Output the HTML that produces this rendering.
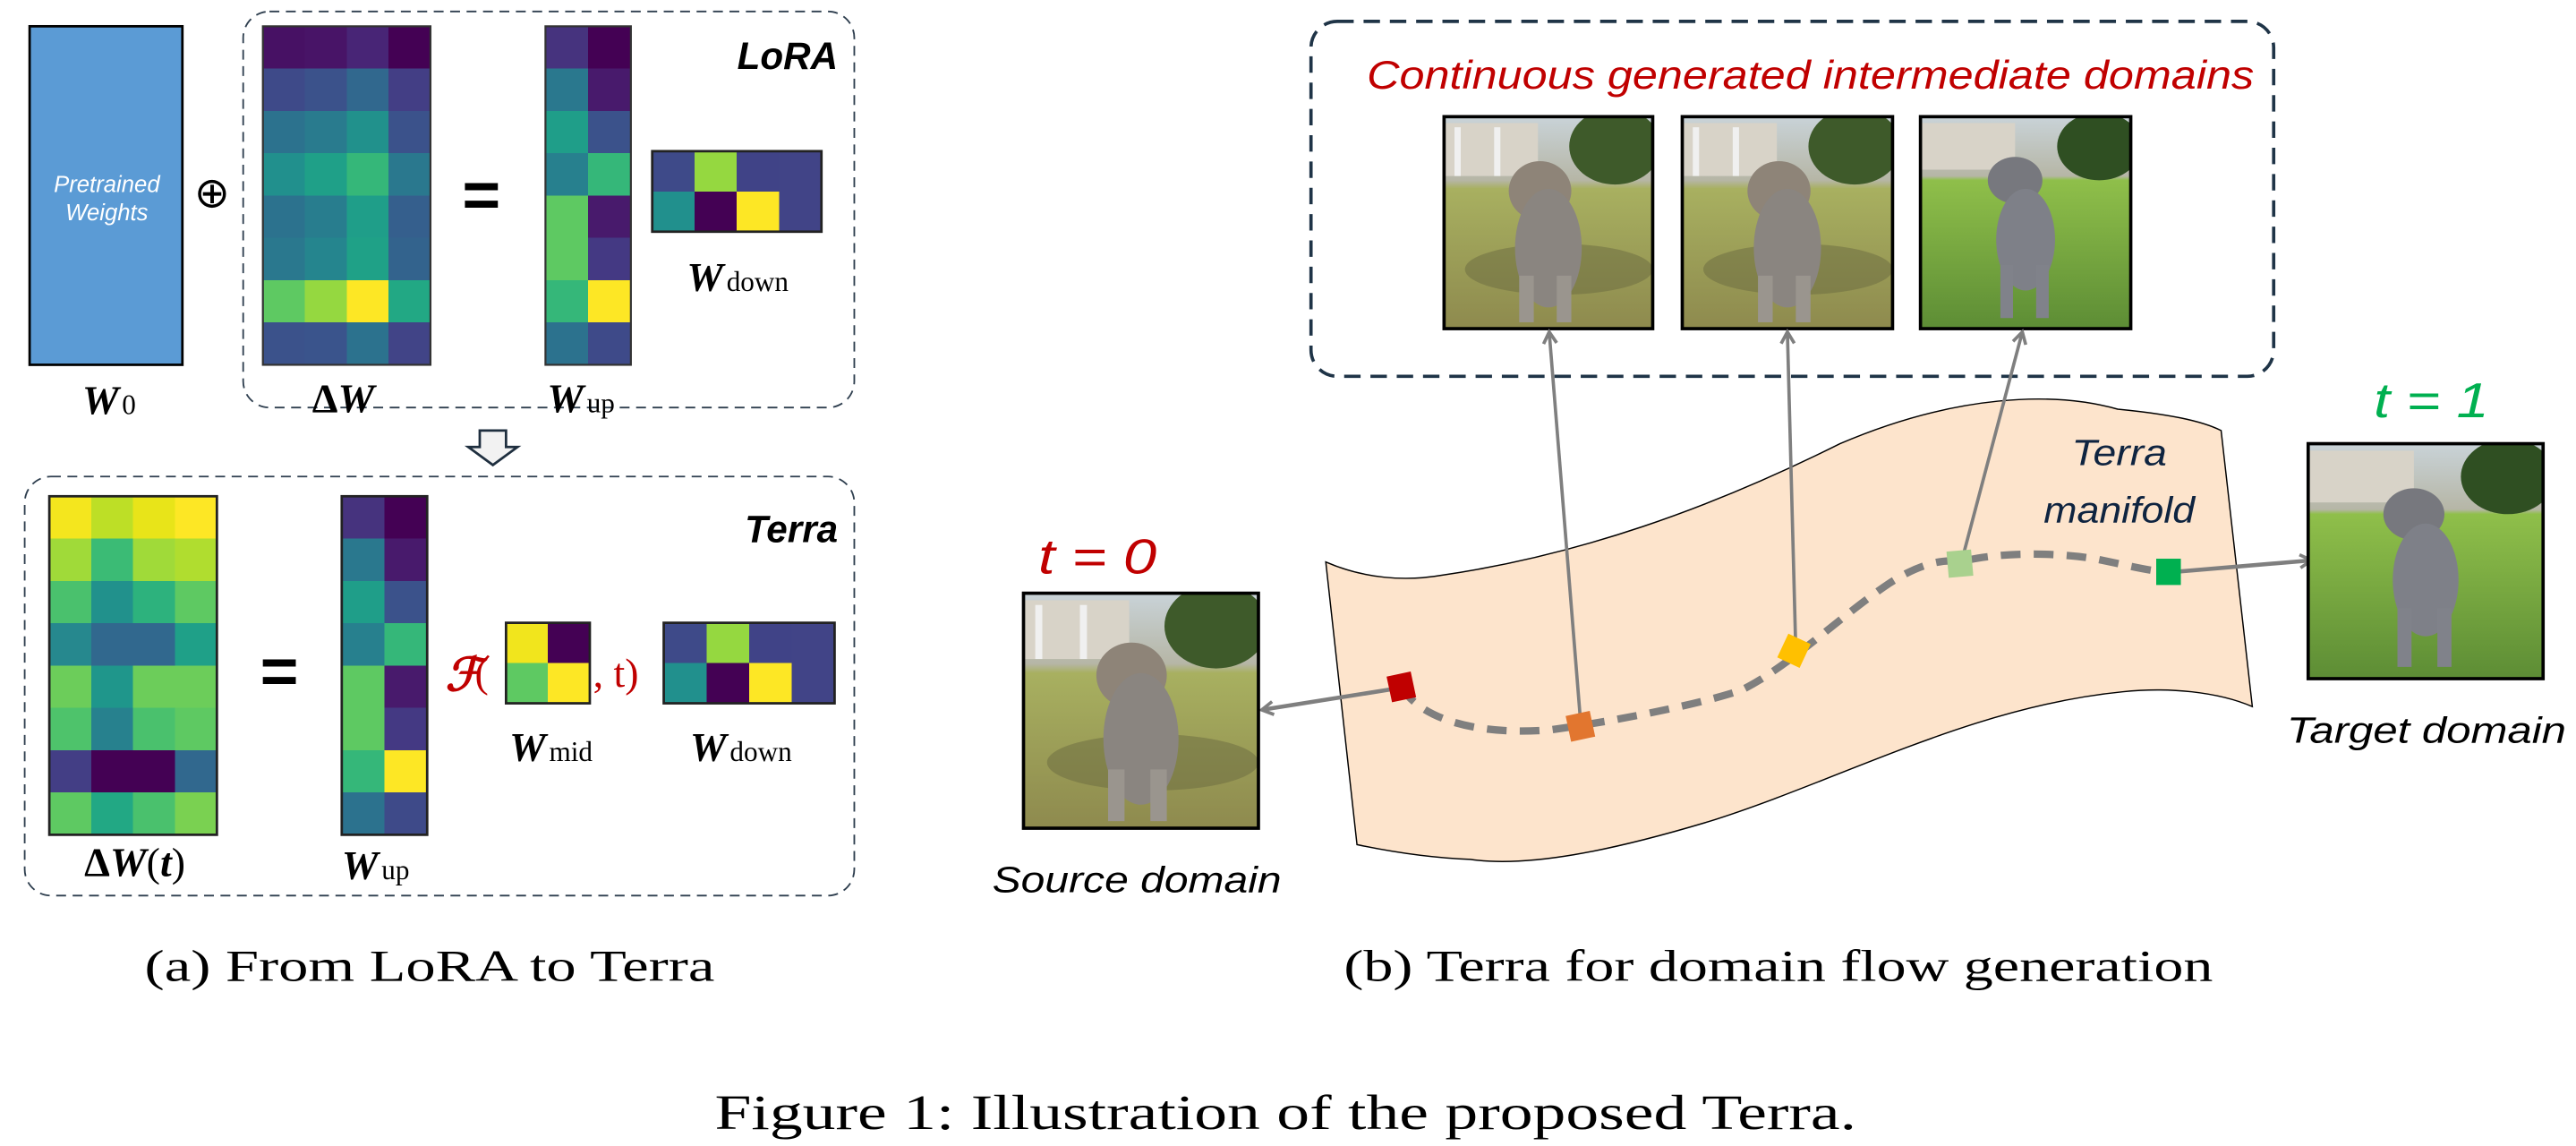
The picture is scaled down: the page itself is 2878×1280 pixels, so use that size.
<!DOCTYPE html>
<html><head><meta charset="utf-8"><style>
html,body{margin:0;padding:0;background:#fff}
svg{display:block}
.lbl{font-family:"Liberation Sans",sans-serif;font-style:italic}
.mW{font-family:"Liberation Serif",serif;font-style:italic;font-weight:bold}
.sub{font-family:"Liberation Serif",serif;font-style:normal;font-weight:normal}
.cap{font-family:"Liberation Serif",serif}
</style></head><body>
<svg width="2878" height="1280" viewBox="0 0 1568 697.4" xmlns="http://www.w3.org/2000/svg">
<defs>
<marker id="ah" markerWidth="10" markerHeight="10" refX="8" refY="5" orient="auto" markerUnits="userSpaceOnUse">
<path d="M1,1 L8,5 L1,9" fill="none" stroke="#7f7f7f" stroke-width="2"/>
</marker>
<linearGradient id="sky" x1="0" y1="0" x2="0" y2="1">
<stop offset="0" stop-color="#c9d3d8"/><stop offset="0.3" stop-color="#b6b6a6"/><stop offset="0.34" stop-color="#a8b060"/><stop offset="1" stop-color="#8e8a4e"/>
</linearGradient>
<linearGradient id="skyg" x1="0" y1="0" x2="0" y2="1">
<stop offset="0" stop-color="#c9d3d8"/><stop offset="0.28" stop-color="#b6b6a6"/><stop offset="0.3" stop-color="#8fbf4a"/><stop offset="1" stop-color="#5d8d35"/>
</linearGradient>
<symbol id="ph" viewBox="0 0 100 100" preserveAspectRatio="none">
<rect width="100" height="100" fill="url(#sky)"/>
<rect x="0" y="3" width="45" height="25" fill="#d8d3c8"/>
<rect x="5" y="5" width="3" height="23" fill="#f0f0f0"/><rect x="24" y="5" width="3" height="23" fill="#f0f0f0"/>
<ellipse cx="82" cy="14" rx="22" ry="18" fill="#3e5a2a"/>
<ellipse cx="55" cy="72" rx="45" ry="12" fill="#6a6a40" opacity="0.5"/>
<ellipse cx="46" cy="35" rx="15" ry="14" fill="#8e8478"/>
<ellipse cx="50" cy="62" rx="16" ry="28" fill="#8a8580"/>
<rect x="36" y="75" width="7" height="22" fill="#9a958e"/><rect x="54" y="75" width="7" height="22" fill="#9a958e"/>
</symbol>
<symbol id="phg" viewBox="0 0 100 100" preserveAspectRatio="none">
<rect width="100" height="100" fill="url(#skyg)"/>
<rect x="0" y="3" width="45" height="22" fill="#d8d3c8"/>
<ellipse cx="85" cy="14" rx="20" ry="16" fill="#2f4f22"/>
<ellipse cx="45" cy="30" rx="13" ry="11" fill="#77787e"/>
<ellipse cx="50" cy="58" rx="14" ry="24" fill="#7e8088"/>
<rect x="38" y="70" width="6" height="25" fill="#80828a"/><rect x="55" y="70" width="6" height="25" fill="#80828a"/>
</symbol>
</defs>

<!-- ===== Panel (a) ===== -->
<rect x="18" y="16" width="93" height="206" fill="#5b9bd5" stroke="#000" stroke-width="1.5"/>
<text class="lbl" x="65" y="117" fill="#fff" font-size="14" text-anchor="middle">Pretrained</text>
<text class="lbl" x="65" y="134" fill="#fff" font-size="14" text-anchor="middle">Weights</text>
<text x="129" y="126" font-family="DejaVu Sans,sans-serif" font-size="26" text-anchor="middle">⊕</text>

<rect x="148" y="7" width="372" height="241" rx="16" fill="none" stroke="#2f3f4f" stroke-width="1" stroke-dasharray="6,4"/>
<text x="510" y="42" font-family="Liberation Sans,sans-serif" font-style="italic" font-weight="bold" font-size="23" text-anchor="end">LoRA</text>

<!-- ΔW -->
<g transform="translate(160,16) scale(25.5,25.75)" shape-rendering="crispEdges">
<rect x="0" y="0" width="1" height="1" fill="#471164"/><rect x="1" y="0" width="1" height="1" fill="#481467"/><rect x="2" y="0" width="1" height="1" fill="#482576"/><rect x="3" y="0" width="1" height="1" fill="#440154"/>
<rect x="0" y="1" width="1" height="1" fill="#3e4a89"/><rect x="1" y="1" width="1" height="1" fill="#3b528b"/><rect x="2" y="1" width="1" height="1" fill="#31688e"/><rect x="3" y="1" width="1" height="1" fill="#433e85"/>
<rect x="0" y="2" width="1" height="1" fill="#2c728e"/><rect x="1" y="2" width="1" height="1" fill="#297b8e"/><rect x="2" y="2" width="1" height="1" fill="#21918c"/><rect x="3" y="2" width="1" height="1" fill="#3b528b"/>
<rect x="0" y="3" width="1" height="1" fill="#21908d"/><rect x="1" y="3" width="1" height="1" fill="#1fa088"/><rect x="2" y="3" width="1" height="1" fill="#35b779"/><rect x="3" y="3" width="1" height="1" fill="#2a788e"/>
<rect x="0" y="4" width="1" height="1" fill="#2c728e"/><rect x="1" y="4" width="1" height="1" fill="#287d8e"/><rect x="2" y="4" width="1" height="1" fill="#1f9e89"/><rect x="3" y="4" width="1" height="1" fill="#355f8d"/>
<rect x="0" y="5" width="1" height="1" fill="#2a788e"/><rect x="1" y="5" width="1" height="1" fill="#25858e"/><rect x="2" y="5" width="1" height="1" fill="#1fa187"/><rect x="3" y="5" width="1" height="1" fill="#33638d"/>
<rect x="0" y="6" width="1" height="1" fill="#5ec962"/><rect x="1" y="6" width="1" height="1" fill="#95d840"/><rect x="2" y="6" width="1" height="1" fill="#fde725"/><rect x="3" y="6" width="1" height="1" fill="#22a884"/>
<rect x="0" y="7" width="1" height="1" fill="#3b528b"/><rect x="1" y="7" width="1" height="1" fill="#3a548c"/><rect x="2" y="7" width="1" height="1" fill="#2c728e"/><rect x="3" y="7" width="1" height="1" fill="#414487"/>
</g>
<rect x="160" y="16" width="102" height="206" fill="none" stroke="#333" stroke-width="1.2"/>
<text x="293" y="132" font-family="Liberation Sans,sans-serif" font-weight="bold" font-size="40" text-anchor="middle">=</text>

<!-- Wup LoRA -->
<g transform="translate(332,16) scale(26,25.75)" shape-rendering="crispEdges">
<rect x="0" y="0" width="1" height="1" fill="#46337e"/><rect x="1" y="0" width="1" height="1" fill="#440154"/>
<rect x="0" y="1" width="1" height="1" fill="#2a788e"/><rect x="1" y="1" width="1" height="1" fill="#481a6c"/>
<rect x="0" y="2" width="1" height="1" fill="#1f9e89"/><rect x="1" y="2" width="1" height="1" fill="#3b528b"/>
<rect x="0" y="3" width="1" height="1" fill="#27808e"/><rect x="1" y="3" width="1" height="1" fill="#35b779"/>
<rect x="0" y="4" width="1" height="1" fill="#5ec962"/><rect x="1" y="4" width="1" height="1" fill="#481a6c"/>
<rect x="0" y="5" width="1" height="1" fill="#5ec962"/><rect x="1" y="5" width="1" height="1" fill="#443983"/>
<rect x="0" y="6" width="1" height="1" fill="#35b779"/><rect x="1" y="6" width="1" height="1" fill="#fde725"/>
<rect x="0" y="7" width="1" height="1" fill="#2c728e"/><rect x="1" y="7" width="1" height="1" fill="#3e4a89"/>
</g>
<rect x="332" y="16" width="52" height="206" fill="none" stroke="#333" stroke-width="1.2"/>

<!-- Wdown LoRA -->
<g transform="translate(397,92) scale(25.75,24.5)" shape-rendering="crispEdges">
<rect x="0" y="0" width="1" height="1" fill="#3e4a89"/><rect x="1" y="0" width="1" height="1" fill="#95d840"/><rect x="2" y="0" width="1" height="1" fill="#404387"/><rect x="3" y="0" width="1" height="1" fill="#414487"/>
<rect x="0" y="1" width="1" height="1" fill="#21908d"/><rect x="1" y="1" width="1" height="1" fill="#440154"/><rect x="2" y="1" width="1" height="1" fill="#fde725"/><rect x="3" y="1" width="1" height="1" fill="#414487"/>
</g>
<rect x="397" y="92" width="103" height="49" fill="none" stroke="#222" stroke-width="1.5"/>

<text class="mW" x="50" y="252" font-size="25">W<tspan class="sub" font-size="17" dx="2">0</tspan></text>
<text class="mW" x="190" y="251" font-size="25"><tspan style="font-style:normal">Δ</tspan>W</text>
<text class="mW" x="333" y="251" font-size="25">W<tspan class="sub" font-size="17" dx="2">up</tspan></text>
<text class="mW" x="418" y="177" font-size="25">W<tspan class="sub" font-size="17" dx="2">down</tspan></text>

<!-- hollow down arrow -->
<path d="M292,262 L308,262 L308,272 L315,272 L300,283 L285,272 L292,272 Z" fill="#f2f2f2" stroke="#1f2f3f" stroke-width="1.5"/>

<!-- Terra box -->
<rect x="15" y="290" width="505" height="255" rx="16" fill="none" stroke="#2f3f4f" stroke-width="1" stroke-dasharray="6,4"/>
<text x="510" y="330" font-family="Liberation Sans,sans-serif" font-style="italic" font-weight="bold" font-size="23" text-anchor="end">Terra</text>

<g transform="translate(30,302) scale(25.5,25.75)" shape-rendering="crispEdges">
<rect x="0" y="0" width="1" height="1" fill="#f4e61e"/><rect x="1" y="0" width="1" height="1" fill="#bddf26"/><rect x="2" y="0" width="1" height="1" fill="#e8e419"/><rect x="3" y="0" width="1" height="1" fill="#fde725"/>
<rect x="0" y="1" width="1" height="1" fill="#a0da39"/><rect x="1" y="1" width="1" height="1" fill="#3bbb75"/><rect x="2" y="1" width="1" height="1" fill="#a0da39"/><rect x="3" y="1" width="1" height="1" fill="#b0dd2f"/>
<rect x="0" y="2" width="1" height="1" fill="#4ac16d"/><rect x="1" y="2" width="1" height="1" fill="#21918c"/><rect x="2" y="2" width="1" height="1" fill="#2db27d"/><rect x="3" y="2" width="1" height="1" fill="#5ec962"/>
<rect x="0" y="3" width="1" height="1" fill="#26888e"/><rect x="1" y="3" width="1" height="1" fill="#31688e"/><rect x="2" y="3" width="1" height="1" fill="#31688e"/><rect x="3" y="3" width="1" height="1" fill="#1fa088"/>
<rect x="0" y="4" width="1" height="1" fill="#6ccd5a"/><rect x="1" y="4" width="1" height="1" fill="#1f968b"/><rect x="2" y="4" width="1" height="1" fill="#6ccd5a"/><rect x="3" y="4" width="1" height="1" fill="#6ccd5a"/>
<rect x="0" y="5" width="1" height="1" fill="#4ec36b"/><rect x="1" y="5" width="1" height="1" fill="#27818e"/><rect x="2" y="5" width="1" height="1" fill="#4ac16d"/><rect x="3" y="5" width="1" height="1" fill="#5ec962"/>
<rect x="0" y="6" width="1" height="1" fill="#433e85"/><rect x="1" y="6" width="1" height="1" fill="#440154"/><rect x="2" y="6" width="1" height="1" fill="#440154"/><rect x="3" y="6" width="1" height="1" fill="#31688e"/>
<rect x="0" y="7" width="1" height="1" fill="#5ec962"/><rect x="1" y="7" width="1" height="1" fill="#22a884"/><rect x="2" y="7" width="1" height="1" fill="#4ac16d"/><rect x="3" y="7" width="1" height="1" fill="#7ad151"/>
</g>
<rect x="30" y="302" width="102" height="206" fill="none" stroke="#222" stroke-width="1.5"/>
<text x="170" y="422" font-family="Liberation Sans,sans-serif" font-weight="bold" font-size="40" text-anchor="middle">=</text>

<g transform="translate(208,302) scale(26,25.75)" shape-rendering="crispEdges">
<rect x="0" y="0" width="1" height="1" fill="#46337e"/><rect x="1" y="0" width="1" height="1" fill="#440154"/>
<rect x="0" y="1" width="1" height="1" fill="#2a788e"/><rect x="1" y="1" width="1" height="1" fill="#481a6c"/>
<rect x="0" y="2" width="1" height="1" fill="#1f9e89"/><rect x="1" y="2" width="1" height="1" fill="#3b528b"/>
<rect x="0" y="3" width="1" height="1" fill="#27808e"/><rect x="1" y="3" width="1" height="1" fill="#35b779"/>
<rect x="0" y="4" width="1" height="1" fill="#5ec962"/><rect x="1" y="4" width="1" height="1" fill="#481a6c"/>
<rect x="0" y="5" width="1" height="1" fill="#5ec962"/><rect x="1" y="5" width="1" height="1" fill="#443983"/>
<rect x="0" y="6" width="1" height="1" fill="#35b779"/><rect x="1" y="6" width="1" height="1" fill="#fde725"/>
<rect x="0" y="7" width="1" height="1" fill="#2c728e"/><rect x="1" y="7" width="1" height="1" fill="#3e4a89"/>
</g>
<rect x="208" y="302" width="52" height="206" fill="none" stroke="#222" stroke-width="1.5"/>

<text x="271" y="420" font-family="Liberation Serif,serif" font-style="italic" font-weight="bold" font-size="28" fill="#c00000">ℱ</text>
<text x="289" y="418" font-family="Liberation Serif,serif" font-size="25" fill="#c00000">(</text>
<g transform="translate(308,379) scale(25.5,24.5)" shape-rendering="crispEdges">
<rect x="0" y="0" width="1" height="1" fill="#f1e51d"/><rect x="1" y="0" width="1" height="1" fill="#440154"/>
<rect x="0" y="1" width="1" height="1" fill="#5ec962"/><rect x="1" y="1" width="1" height="1" fill="#fde725"/>
</g>
<rect x="308" y="379" width="51" height="49" fill="none" stroke="#222" stroke-width="1.5"/>
<text x="361" y="418" font-family="Liberation Serif,serif" font-size="25" fill="#c00000">, t)</text>

<g transform="translate(404,379) scale(26,24.5)" shape-rendering="crispEdges">
<rect x="0" y="0" width="1" height="1" fill="#3e4a89"/><rect x="1" y="0" width="1" height="1" fill="#95d840"/><rect x="2" y="0" width="1" height="1" fill="#404387"/><rect x="3" y="0" width="1" height="1" fill="#414487"/>
<rect x="0" y="1" width="1" height="1" fill="#21908d"/><rect x="1" y="1" width="1" height="1" fill="#440154"/><rect x="2" y="1" width="1" height="1" fill="#fde725"/><rect x="3" y="1" width="1" height="1" fill="#414487"/>
</g>
<rect x="404" y="379" width="104" height="49" fill="none" stroke="#222" stroke-width="1.5"/>

<text class="mW" x="82" y="533" font-size="25" text-anchor="middle"><tspan style="font-style:normal">Δ</tspan>W<tspan class="sub">(</tspan>t<tspan class="sub">)</tspan></text>
<text class="mW" x="208" y="535" font-size="25">W<tspan class="sub" font-size="17" dx="2">up</tspan></text>
<text class="mW" x="310" y="463" font-size="25">W<tspan class="sub" font-size="17" dx="2">mid</tspan></text>
<text class="mW" x="420" y="463" font-size="25">W<tspan class="sub" font-size="17" dx="2">down</tspan></text>

<text class="cap" x="88" y="597" font-size="27" textLength="347" lengthAdjust="spacingAndGlyphs">(a) From LoRA to Terra</text>

<!-- ===== Panel (b) ===== -->
<rect x="798" y="13" width="586" height="216" rx="16" fill="none" stroke="#1f3447" stroke-width="2" stroke-dasharray="10,6"/>
<text class="lbl" x="832" y="54" font-size="24" fill="#c00000" textLength="540" lengthAdjust="spacingAndGlyphs">Continuous generated intermediate domains</text>

<use href="#ph" x="879" y="71" width="127" height="129"/>
<rect x="879" y="71" width="127" height="129" fill="none" stroke="#000" stroke-width="2"/>
<use href="#ph" x="1024" y="71" width="128" height="129"/>
<rect x="1024" y="71" width="128" height="129" fill="none" stroke="#000" stroke-width="2"/>
<use href="#phg" x="1169" y="71" width="128" height="129"/>
<rect x="1169" y="71" width="128" height="129" fill="none" stroke="#000" stroke-width="2"/>

<!-- manifold -->
<path d="M807,342 C830,352 855,354 878,350 C960,338 1040,310 1120,270 C1190,240 1250,238 1289,249 C1320,252 1340,256 1352,262 L1371,430 C1350,421 1320,418 1292,421 C1200,430 1120,475 1040,500 C980,518 930,528 895,523 C870,522 845,518 826,514 Z" fill="#fde4cc" stroke="#000" stroke-width="0.8"/>

<text class="lbl" x="1290" y="283" font-size="22" fill="#0f2440" text-anchor="middle" textLength="58" lengthAdjust="spacingAndGlyphs">Terra</text>
<text class="lbl" x="1290" y="318" font-size="22" fill="#0f2440" text-anchor="middle" textLength="92" lengthAdjust="spacingAndGlyphs">manifold</text>

<!-- dashed path -->
<path d="M853,418 C865,438 900,448 945,444 C975,440 1030,430 1060,420 C1090,405 1120,375 1150,355 C1170,342 1185,340 1193,342 C1215,336 1250,336 1275,340 C1295,344 1310,348 1320,348" fill="none" stroke="#7f7f7f" stroke-width="4.5" stroke-dasharray="12,8"/>

<!-- arrows -->
<line x1="962" y1="438" x2="943" y2="202" stroke="#7f7f7f" stroke-width="2" marker-end="url(#ah)"/>
<line x1="1093" y1="392" x2="1088" y2="202" stroke="#7f7f7f" stroke-width="2" marker-end="url(#ah)"/>
<line x1="1195" y1="338" x2="1231" y2="202" stroke="#7f7f7f" stroke-width="2" marker-end="url(#ah)"/>
<line x1="850" y1="419" x2="768" y2="432" stroke="#7f7f7f" stroke-width="2.5" marker-end="url(#ah)"/>
<line x1="1324" y1="348" x2="1407" y2="341" stroke="#7f7f7f" stroke-width="2.5" marker-end="url(#ah)"/>

<!-- squares -->
<rect x="-7.5" y="-8" width="15" height="16" fill="#c00000" transform="translate(853,418) rotate(-12)"/>
<rect x="-7.5" y="-8" width="15" height="16" fill="#e2762f" transform="translate(962,442) rotate(-12)"/>
<rect x="-7.5" y="-8" width="15" height="16" fill="#ffc000" transform="translate(1092,396) rotate(25)"/>
<rect x="-7.5" y="-8" width="15" height="16" fill="#a9d18e" transform="translate(1193,343) rotate(-5)"/>
<rect x="-7.5" y="-8" width="15" height="16" fill="#00b050" transform="translate(1320,348)"/>

<!-- source / target -->
<use href="#ph" x="623" y="361" width="143" height="143"/>
<rect x="623" y="361" width="143" height="143" fill="none" stroke="#000" stroke-width="2"/>
<use href="#phg" x="1405" y="270" width="143" height="143"/>
<rect x="1405" y="270" width="143" height="143" fill="none" stroke="#000" stroke-width="2"/>

<text class="lbl" x="668" y="349" font-size="30" fill="#c00000" text-anchor="middle" textLength="72" lengthAdjust="spacingAndGlyphs">t = 0</text>
<text class="lbl" x="1480" y="254" font-size="30" fill="#00b050" text-anchor="middle" textLength="70" lengthAdjust="spacingAndGlyphs">t = 1</text>
<text class="lbl" x="692" y="543" font-size="22" text-anchor="middle" textLength="176" lengthAdjust="spacingAndGlyphs">Source domain</text>
<text class="lbl" x="1477" y="452" font-size="22" text-anchor="middle" textLength="170" lengthAdjust="spacingAndGlyphs">Target domain</text>

<text class="cap" x="818" y="597" font-size="27" textLength="529" lengthAdjust="spacingAndGlyphs">(b) Terra for domain flow generation</text>

<text class="cap" x="435" y="687" font-size="30" textLength="695" lengthAdjust="spacingAndGlyphs">Figure 1: Illustration of the proposed Terra.</text>
</svg>
</body></html>
